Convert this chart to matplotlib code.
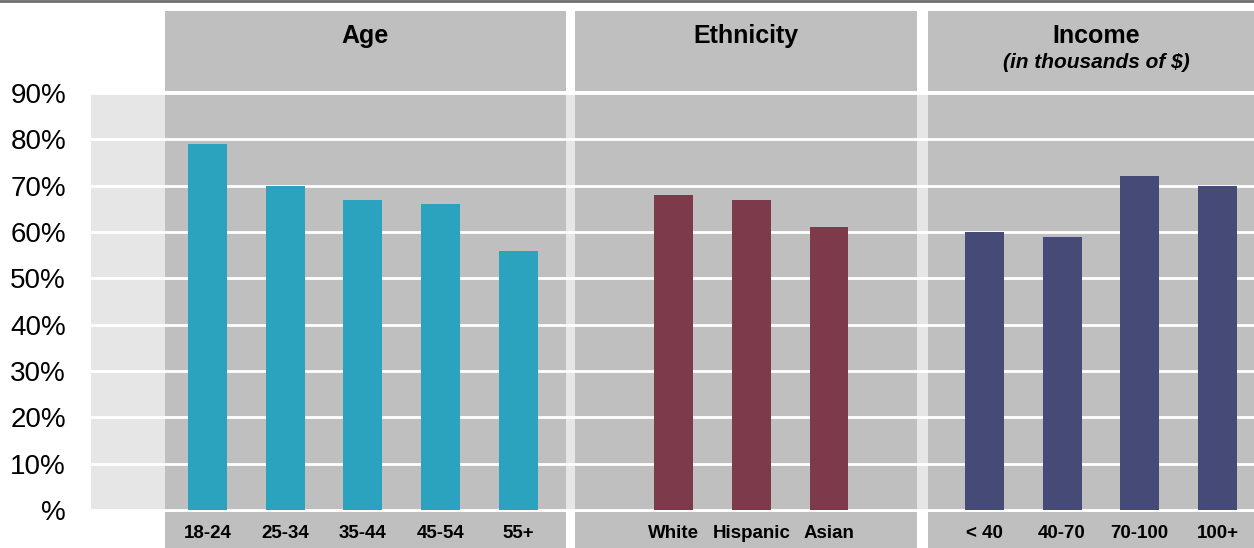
import matplotlib.pyplot as plt
from matplotlib.patches import Rectangle
from matplotlib.transforms import blended_transform_factory

plt.rcParams['font.family'] = ['Liberation Sans', 'DejaVu Sans']

# share of respondents per group
age_labels = ['18-24', '25-34', '35-44', '45-54', '55+']
age_values = [79, 70, 67, 66, 56]
eth_labels = ['White', 'Hispanic', 'Asian']
eth_values = [68, 67, 61]
inc_labels = ['< 40', '40-70', '70-100', '100+']
inc_values = [60, 59, 72, 70]

y_ticks = [0, 10, 20, 30, 40, 50, 60, 70, 80, 90]
y_tick_labels = ['%', '10%', '20%', '30%', '40%', '50%', '60%', '70%', '80%', '90%']

AGE_COLOR = '#2ba3bf'
ETH_COLOR = '#7c3a4a'
INC_COLOR = '#464a77'
PANEL = '#bfbfbf'
LIGHT = '#e6e6e6'

# slot positions, with an empty slot between groups
age_x = list(range(0, 5))
eth_x = list(range(6, 9))
inc_x = list(range(10, 14))

# panel spans in slot units: (left, right, title, subtitle)
panels = [
    (-0.55, 4.61, 'Age', None),
    (4.73, 9.13, 'Ethnicity', None),
    (9.27, 13.6, 'Income', '(in thousands of $)'),
]

fig = plt.figure(figsize=(12.54, 5.48), dpi=100)
ax = fig.add_axes([91 / 1254, 38 / 548, 1163 / 1254, 417 / 548])
ax.set_facecolor(LIGHT)
ax.set_xlim(-1.5, 13.47)
ax.set_ylim(0, 90)

for left, right, title, sub in panels:
    ax.axvspan(left, right, color=PANEL, zorder=0, lw=0)

ax.set_yticks(y_ticks)
ax.set_yticklabels(y_tick_labels, fontsize=20)
ax.tick_params(axis='y', length=0, pad=18)
ax.set_xticks([])
ax.grid(axis='y', color='white', linewidth=2, zorder=1)
ax.set_axisbelow(True)
for s in ax.spines.values():
    s.set_visible(False)

ax.bar(age_x, age_values, width=0.5, color=AGE_COLOR, zorder=2)
ax.bar(eth_x, eth_values, width=0.5, color=ETH_COLOR, zorder=2)
ax.bar(inc_x, inc_values, width=0.5, color=INC_COLOR, zorder=2)

# header and category strips above and below the plot area
trans = blended_transform_factory(ax.transData, ax.transAxes)
px = 1 / 417
for left, right, title, sub in panels:
    ax.add_patch(Rectangle((left, 1 + 2 * px), right - left, 80 * px,
                           transform=trans, color=PANEL, lw=0, clip_on=False))
    ax.add_patch(Rectangle((left, -38 * px), right - left, 36 * px,
                           transform=trans, color=PANEL, lw=0, clip_on=False))
    cx = (left + right) / 2
    ax.text(cx, 1 + 57 * px, title, transform=trans, ha='center', va='center',
            fontsize=18, fontweight='bold')
    if sub:
        ax.text(cx, 1 + 30 * px, sub, transform=trans, ha='center', va='center',
                fontsize=15, fontweight='bold', fontstyle='italic')

for xs, labels in [(age_x, age_labels), (eth_x, eth_labels), (inc_x, inc_labels)]:
    for x, lab in zip(xs, labels):
        ax.text(x, -24 * px, lab, transform=trans, ha='center', va='center',
                fontsize=13.5, fontweight='bold')

# thin rule along the top edge
fig.add_artist(plt.Line2D([0, 1], [1 - 0.5 / 548, 1 - 0.5 / 548],
                          color='#6e6e6e', linewidth=2))

fig.savefig('out.png', dpi=100)
